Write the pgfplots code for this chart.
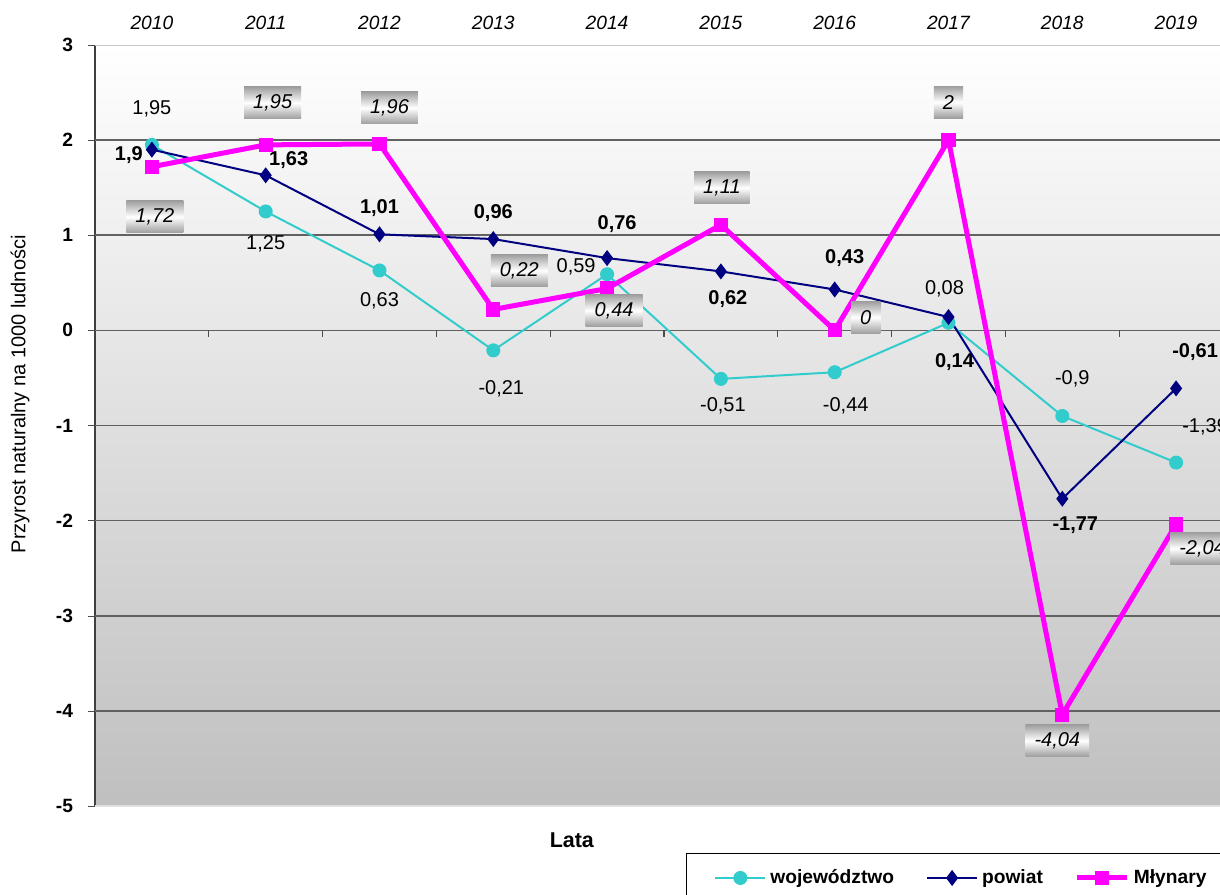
\documentclass[border=0pt]{standalone}
\usepackage{pgfplots}
\pgfplotsset{compat=1.18}
\usepackage{pgfplotstable}
\usepackage{fontspec}
\setmainfont{Liberation Sans}

\definecolor{woj}{RGB}{51,204,204}
\definecolor{pow}{RGB}{0,0,128}
\definecolor{mly}{RGB}{255,0,255}

% label offsets dx, dy in pixels of the reference
\pgfplotstableread{
x y lab dx dy
2010 1.95 1,95 0 36
2011 1.25 1,25 0 -32
2012 0.63 0,63 0 -30
2013 -0.21 -0,21 8 -38
2014 0.59 0,59 -31 7
2015 -0.51 -0,51 2 -27
2016 -0.44 -0,44 11 -34
2017 0.08 0,08 -4 34
2018 -0.9 -0,9 10 37
2019 -1.39 -1,39 29 36
}\tabwoj

\pgfplotstableread{
x y lab dx dy
2010 1.9 1,9 -23 -5
2011 1.63 1,63 23 15
2012 1.01 1,01 0 26
2013 0.96 0,96 0 26
2014 0.76 0,76 10 34
2015 0.62 0,62 7 -28
2016 0.43 0,43 10 31
2017 0.14 0,14 6 -45
2018 -1.77 -1,77 13 -26
2019 -0.61 -0,61 19 36
}\tabpow

\pgfplotstableread{
x y lab dx dy
2010 1.72 1,72 3 -50
2011 1.95 1,95 7 42
2012 1.96 1,96 10 36
2013 0.22 0,22 26 39
2014 0.44 0,44 7 -22
2015 1.11 1,11 1 37
2016 0 0 31 13
2017 2 2 0 38
2018 -4.04 -4,04 -5 -26
2019 -2.04 -2,04 26 -24
}\tabmly

\newcommand{\lblfont}{\fontsize{10}{12}\selectfont}

\begin{document}
\begin{tikzpicture}
\useasboundingbox (0pt,0pt) rectangle (610pt,447pt);
\clip (0pt,0pt) rectangle (610pt,447pt);
\begin{axis}[
  at={(47.5pt,44pt)}, anchor=south west,
  scale only axis, width=569pt, height=380.5pt,
  xmin=2009.5, xmax=2019.5, ymin=-5, ymax=3,
  xtick={2010,...,2019},
  xticklabels={2010,2011,2012,2013,2014,2015,2016,2017,2018,2019},
  xticklabel pos=upper,
  xtick style={draw=none},
  xticklabel style={font=\itshape\fontsize{9.6}{11}\selectfont, anchor=center, yshift=7.5pt},
  ytick={-5,...,3},
  tick align=outside, major tick length=3.5pt,
  ytick style={black!70},
  yticklabel style={font=\bfseries\fontsize{9.6}{11}\selectfont, xshift=-4pt},
  /pgf/number format/assume math mode=true,
  separate axis lines,
  axis y line*=left,
  x axis line style={draw=none},
  y axis line style={black!75, line width=0.6pt},
  axis background/.style={top color=white, bottom color=black!25},
  xlabel={Lata},
  xlabel style={at={(axis description cs:0.419,-0.0447)}, anchor=center,
    font=\bfseries\fontsize{10.7}{12}\selectfont},
  ylabel={Przyrost naturalny na 1000 ludności},
  ylabel style={at={(axis description cs:-0.0659,0.541)}, anchor=center,
    font=\lblfont},
  legend columns=3,
  legend style={at={(axis description cs:0.5193,-0.0618)}, anchor=north west,
    draw=black, fill=white, font=\bfseries\fontsize{9.6}{11}\selectfont,
    inner xsep=14pt, inner ysep=6pt,
    /tikz/every even column/.append style={column sep=14pt}},
  legend image code/.code={\draw[mark repeat=2,mark phase=2,#1]
    plot coordinates {(0pt,0pt) (12.5pt,0pt) (25pt,0pt)};},
  point meta=explicit symbolic,
  nodes near coords,
  visualization depends on={\thisrow{dx} \as \ldx},
  visualization depends on={\thisrow{dy} \as \ldy},
  nodes near coords style={anchor=center, text=black, font=\lblfont,
    xshift={\ldx*0.5pt}, yshift={\ldy*0.5pt}},
]
% grid lines: dark inside, light along the top and bottom edges
\draw[black!22, line width=0.8pt] (rel axis cs:0,1) -- (rel axis cs:1,1);
\draw[black!12, line width=0.8pt] (rel axis cs:0,0) -- (rel axis cs:1,0);
\pgfplotsinvokeforeach{-4,...,2}{
  \draw[black!62, line width=0.8pt] (axis cs:2009.5,#1) -- (axis cs:2019.5,#1);
}
\pgfplotsinvokeforeach{2010,...,2018}{
  \draw[black!70, line width=0.6pt] (axis cs:#1.5,0) -- ++(0pt,-3.5pt);
}
\addplot[color=woj, line width=1pt, mark=*, mark size=3pt,
  mark options={fill=woj}]
  table[x=x, y=y, meta=lab] {\tabwoj};
\addlegendentry{województwo}
\addplot[color=pow, line width=1pt, mark=diamond*, mark size=3.2pt,
  mark options={fill=pow},
  nodes near coords style={font=\bfseries\lblfont}]
  table[x=x, y=y, meta=lab] {\tabpow};
\addlegendentry{powiat}
\addplot[color=mly, line width=2.5pt, mark=square*, mark size=3.3pt,
  mark options={fill=mly, line width=0.5pt},
  nodes near coords style={font=\itshape\lblfont, top color=black!38,
    bottom color=black!38, middle color=white, inner xsep=4.5pt,
    minimum height=16pt}]
  table[x=x, y=y, meta=lab] {\tabmly};
\addlegendentry{Młynary}
\end{axis}
\end{tikzpicture}
\end{document}
